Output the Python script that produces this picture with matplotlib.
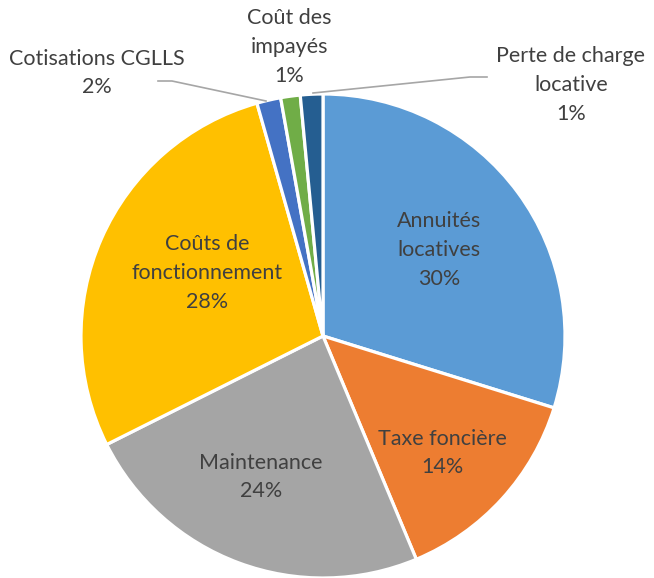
import matplotlib
matplotlib.use("Agg")
import matplotlib.pyplot as plt

categories = ["Annuités locatives", "Taxe foncière", "Maintenance",
              "Coûts de fonctionnement", "Cotisations CGLLS",
              "Coût des impayés", "Perte de charge locative"]
values = [29.8, 13.9, 23.9, 28.0, 1.6, 1.3, 1.5]
pct_labels = ["30%", "14%", "24%", "28%", "2%", "1%", "1%"]
label_text = ["Annuités\nlocatives", "Taxe foncière", "Maintenance",
              "Coûts de\nfonctionnement", "Cotisations CGLLS",
              "Coût des\nimpayés", "Perte de charge\nlocative"]
colors = ["#5B9BD5", "#ED7D31", "#A5A5A5", "#FFC000", "#4472C4", "#70AD47", "#255E91"]

W, H = 654, 578
fig = plt.figure(figsize=(W / 100, H / 100), dpi=100)
ax = fig.add_axes([0, 0, 1, 1])

cx, cy, r = 323, H - 336, 242
ax.pie(values, colors=colors, startangle=90, counterclock=False,
       center=(cx, cy), radius=r, frame=True,
       wedgeprops=dict(edgecolor="white", linewidth=2.3))
ax.set_xlim(0, W)
ax.set_ylim(0, H)
ax.set_aspect("equal")
ax.axis("off")

# label positions (pixel coords, y measured from top)
label_pos = [(439, 250), (442, 453), (261, 477), (207, 273),
             (97, 73), (289, 47), (571, 85)]
font = dict(family=["Lato", "DejaVu Sans"], size=15.5, color="#404040")
for txt, pct, (x, y) in zip(label_text, pct_labels, label_pos):
    ax.text(x, H - y, txt + "\n" + pct, ha="center", va="center",
            linespacing=1.55, **font)

lc = "#A6A6A6"
# leader lines
ax.plot([158, 172, 266], [H - 81, H - 81, H - 101], color=lc, lw=1.2)
ax.plot([313, 470, 487], [H - 93, H - 77, H - 77], color=lc, lw=1.2)

fig.savefig("out.png", dpi=100)
